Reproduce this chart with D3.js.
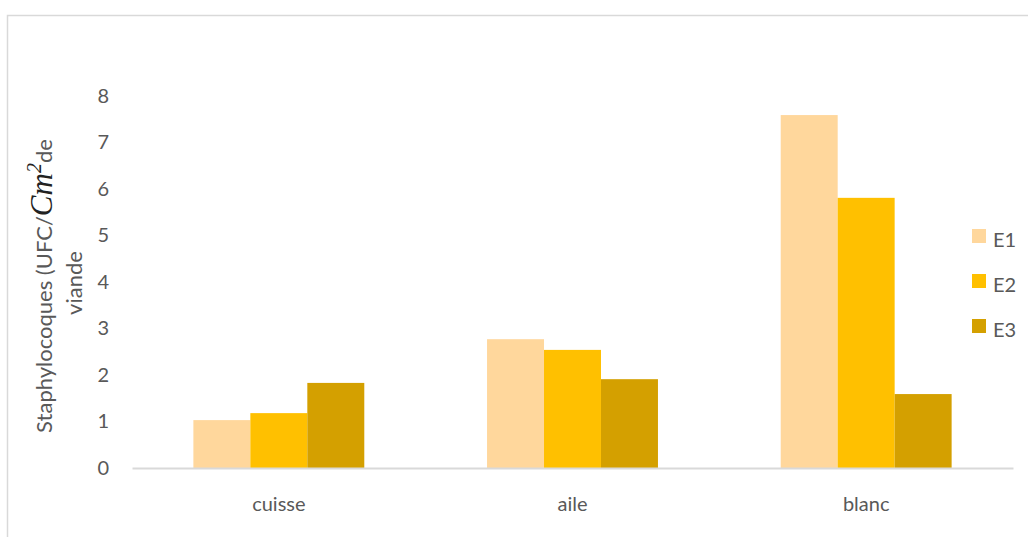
<!DOCTYPE html>
<html>
<head>
<meta charset="utf-8">
<script src="https://cdn.jsdelivr.net/npm/d3@7"></script>
<style>
  html, body { margin: 0; padding: 0; background: #fff; }
  svg { display: block; }
</style>
</head>
<body>
<svg id="chart" width="1028" height="537"></svg>
<script>
// Staphylococcus counts per meat cut, for three samplings E1–E3
const categories = ["cuisse", "aile", "blanc"];
const seriesNames = ["E1", "E2", "E3"];
const E1 = [1.03, 2.77, 7.59];
const E2 = [1.18, 2.54, 5.81];
const E3 = [1.83, 1.91, 1.59];
const yTicks = [0, 1, 2, 3, 4, 5, 6, 7, 8];
const colors = ["#FFD79C", "#FFC000", "#D4A000"];

const seriesValues = [E1, E2, E3];
const rows = categories.map((c, i) => ({
  cat: c,
  vals: seriesNames.map((s, j) => ({ key: s, value: seriesValues[j][i] }))
}));

const svg = d3.select("#chart");
const font = "Lato, 'Open Sans', sans-serif";
const textColor = "#595959";

// chart frame
svg.append("rect")
  .attr("x", 7.5).attr("y", 15.5)
  .attr("width", 1100).attr("height", 600)
  .attr("fill", "none").attr("stroke", "#d9d9d9").attr("stroke-width", 1.5);

const x0 = d3.scaleBand().domain(categories).range([132, 1013])
  .paddingInner(0.418).paddingOuter(0.209);
const x1 = d3.scaleBand().domain(seriesNames).range([0, x0.bandwidth()]).padding(0);
const y = d3.scaleLinear().domain([0, 8]).range([468, 96]);
const color = d3.scaleOrdinal().domain(seriesNames).range(colors);

// bars
const groups = svg.append("g").selectAll("g").data(rows).join("g")
  .attr("transform", d => `translate(${x0(d.cat)},0)`);
groups.selectAll("rect").data(d => d.vals).join("rect")
  .attr("x", d => x1(d.key))
  .attr("y", d => y(d.value))
  .attr("width", x1.bandwidth())
  .attr("height", d => y(0) - y(d.value))
  .attr("fill", d => color(d.key));

// y axis labels (no line, no ticks)
const yAxis = svg.append("g").attr("transform", "translate(109,0)")
  .call(d3.axisLeft(y).tickValues(yTicks).tickSize(0).tickPadding(0).tickFormat(d3.format("d")));
yAxis.select(".domain").remove();
yAxis.selectAll("text")
  .attr("fill", textColor).attr("font-family", font).attr("font-size", 20);

// x axis line and category labels
const xAxis = svg.append("g").attr("transform", "translate(0,468)")
  .call(d3.axisBottom(x0).tickSize(0).tickPadding(0));
xAxis.select(".domain").attr("stroke", "#d9d9d9").attr("stroke-width", 2);
xAxis.selectAll("text")
  .attr("fill", textColor).attr("font-family", font).attr("font-size", 20)
  .attr("dy", null).attr("y", 43);

// y axis title, two lines, rotated
const title = svg.append("g").attr("transform", "rotate(-90)");
const t1 = title.append("text")
  .attr("x", -286).attr("y", 52)
  .attr("text-anchor", "middle")
  .attr("fill", textColor).attr("font-family", font).attr("font-size", 22);
t1.append("tspan").text("Staphylocoques (UFC/");
t1.append("tspan").attr("font-family", "'Liberation Serif', serif").attr("font-style", "italic")
  .attr("font-size", 31).attr("fill", "#222").text("Cm");
t1.append("tspan").attr("font-family", "'Liberation Serif', serif").attr("font-style", "italic")
  .attr("font-size", 20).attr("fill", "#222").attr("dy", -11).text("2");
t1.append("tspan").attr("dy", 11).text("de");
title.append("text")
  .attr("x", -283).attr("y", 82)
  .attr("text-anchor", "middle")
  .attr("fill", textColor).attr("font-family", font).attr("font-size", 22)
  .text("viande");

// legend
const legend = svg.append("g").selectAll("g").data(seriesNames).join("g")
  .attr("transform", (d, i) => `translate(972,${229 + i * 45})`);
legend.append("rect").attr("width", 14).attr("height", 14).attr("fill", d => color(d));
legend.append("text").attr("x", 21).attr("y", 18)
  .attr("fill", textColor).attr("font-family", font).attr("font-size", 20)
  .text(d => d);
</script>
</body>
</html>
